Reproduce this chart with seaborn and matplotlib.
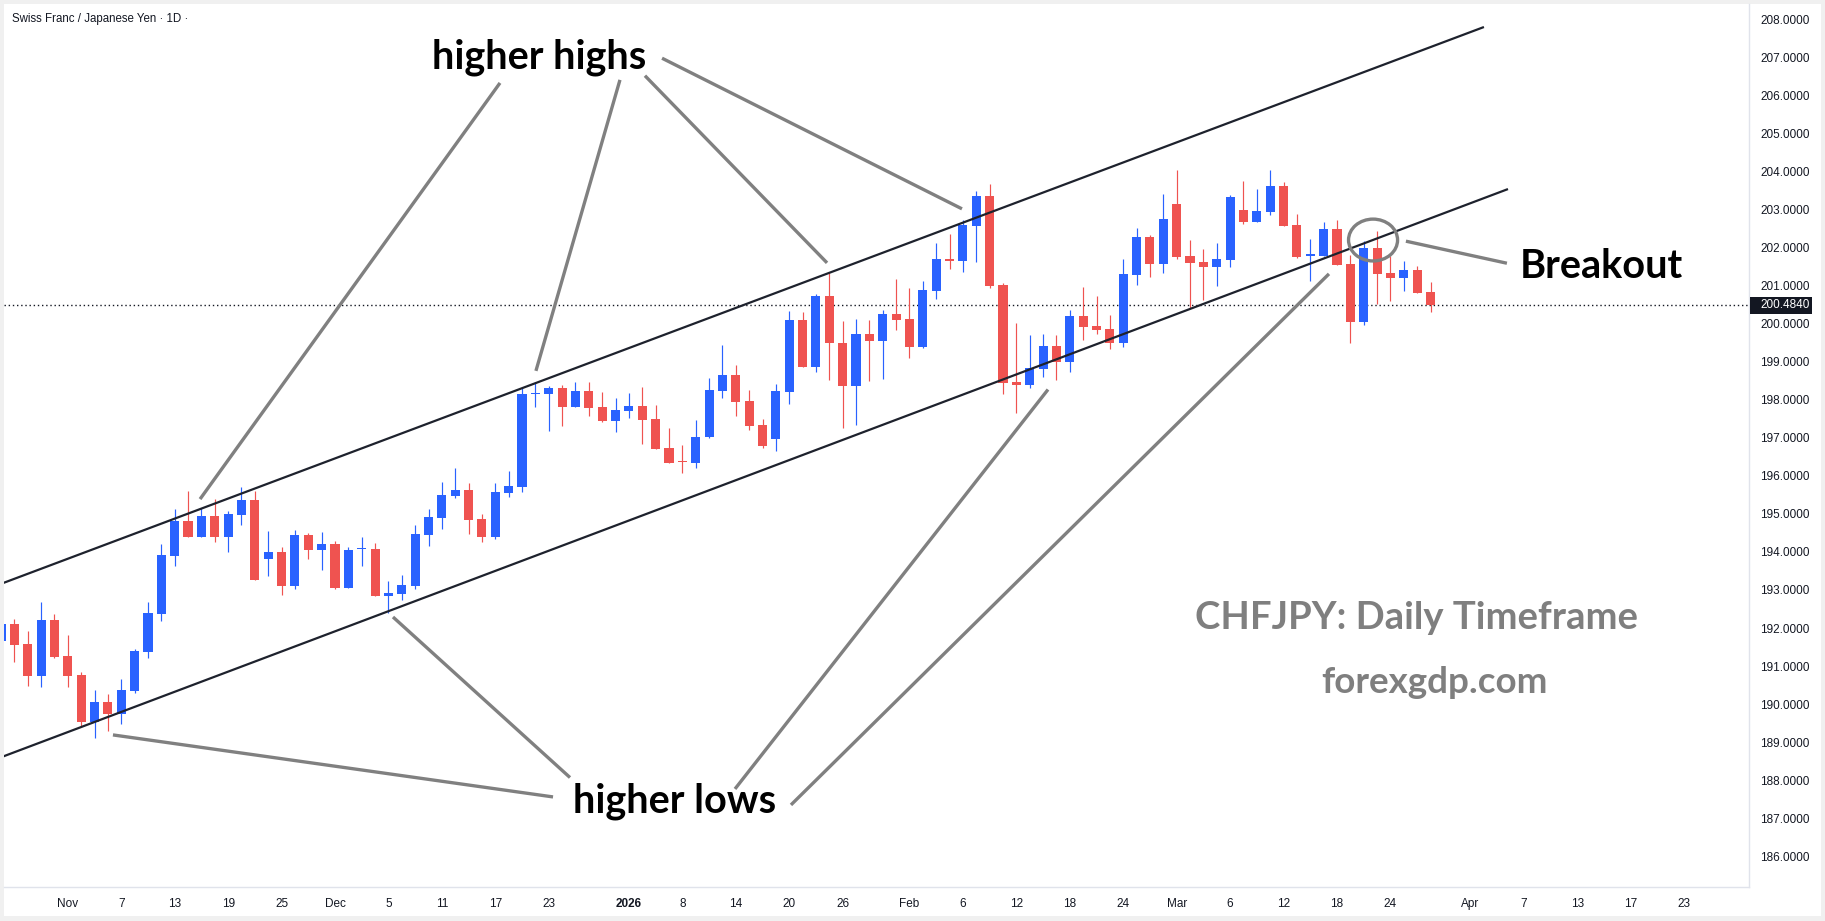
import numpy as np
import pandas as pd
import seaborn as sns
import matplotlib.pyplot as plt
from matplotlib.patches import Rectangle, Ellipse
import matplotlib.transforms as mtransforms

# CHF/JPY daily candles, 27 Oct 2025 -> 27 Mar 2026
opens = [191.65, 192.11, 191.58, 190.74, 192.21, 191.27, 190.77, 189.54, 190.06, 189.74,
         190.35, 191.38, 192.38, 193.90, 194.81, 194.40, 194.95, 194.38, 194.97, 195.37,
         193.82, 194.00, 193.11, 194.45, 194.05, 194.21, 193.05, 194.07, 194.08, 192.84,
         192.90, 193.11, 194.45, 194.89, 195.47, 195.63, 194.87, 194.39, 195.55, 195.71,
         198.16, 198.15, 198.31, 197.81, 198.23, 197.81, 197.45, 197.71, 197.84, 197.50,
         196.73, 196.37, 196.35, 197.01, 198.23, 198.65, 197.97, 197.34, 196.97, 198.21,
         200.10, 198.86, 200.73, 199.49, 198.36, 199.73, 199.55, 200.26, 200.12, 199.39,
         200.86, 201.70, 201.65, 202.57, 203.36, 201.02, 198.47, 198.39, 198.81, 199.41,
         198.99, 200.20, 199.94, 199.86, 199.49, 201.28, 202.28, 201.57, 203.15, 201.78,
         201.62, 201.49, 201.68, 202.99, 202.67, 202.94, 203.62, 202.60, 201.79, 201.78,
         202.49, 201.57, 200.05, 201.99, 201.33, 201.20, 201.41, 200.83]
highs = [192.25, 192.24, 191.92, 192.69, 192.37, 191.82, 190.85, 190.37, 190.27, 190.66,
         191.45, 192.69, 194.21, 195.13, 195.60, 195.15, 195.39, 195.08, 195.71, 195.60,
         194.55, 194.13, 194.58, 194.50, 194.52, 194.29, 194.13, 194.39, 194.24, 193.24,
         193.39, 194.71, 195.13, 195.84, 196.21, 195.80, 195.00, 195.80, 196.13, 198.30,
         198.46, 198.36, 198.39, 198.47, 198.47, 198.21, 198.05, 198.18, 198.34, 197.86,
         197.26, 196.81, 197.47, 198.57, 199.44, 198.92, 198.26, 197.50, 198.42, 200.33,
         200.31, 200.78, 201.33, 200.07, 200.12, 200.10, 200.36, 201.18, 200.94, 201.12,
         202.12, 202.36, 202.73, 203.49, 203.67, 201.07, 200.02, 199.70, 199.73, 199.70,
         200.36, 200.97, 200.73, 200.23, 201.70, 202.52, 202.33, 203.41, 204.04, 202.20,
         201.96, 202.12, 203.38, 203.75, 203.54, 204.04, 203.73, 202.89, 202.23, 202.67,
         202.73, 201.81, 202.18, 202.44, 201.78, 201.65, 201.52, 201.10]
lows = [191.50, 191.12, 190.48, 190.46, 191.20, 190.46, 189.39, 189.10, 189.30, 189.48,
        190.30, 191.20, 192.19, 193.64, 194.39, 194.40, 194.27, 194.01, 194.71, 193.26,
        193.37, 192.87, 193.03, 193.82, 193.53, 193.03, 193.05, 193.63, 192.84, 192.39,
        192.74, 193.03, 194.16, 194.60, 195.42, 194.47, 194.26, 194.34, 195.45, 195.58,
        197.82, 197.18, 197.31, 197.81, 197.58, 197.42, 197.15, 197.53, 196.84, 196.70,
        196.34, 196.08, 196.21, 197.00, 198.05, 197.58, 197.21, 196.73, 196.65, 197.89,
        198.86, 198.73, 198.52, 197.26, 197.34, 198.49, 198.55, 199.84, 199.10, 199.36,
        200.65, 201.44, 201.36, 201.62, 200.94, 198.15, 197.65, 198.31, 198.60, 198.52,
        198.73, 199.57, 199.73, 199.34, 199.39, 201.02, 201.23, 201.33, 201.70, 200.41,
        200.62, 200.99, 201.49, 202.62, 202.67, 202.86, 202.57, 201.73, 201.12, 201.78,
        201.54, 199.49, 199.97, 200.52, 200.60, 200.87, 200.80, 200.31]
closes = [192.11, 191.55, 190.74, 192.21, 191.25, 190.74, 189.54, 190.06, 189.74, 190.37,
          191.40, 192.40, 193.92, 194.81, 194.40, 194.95, 194.38, 194.99, 195.37, 193.26,
          194.00, 193.11, 194.45, 194.05, 194.21, 193.05, 194.05, 194.09, 192.84, 192.92,
          193.13, 194.47, 194.92, 195.50, 195.63, 194.84, 194.39, 195.58, 195.73, 198.15,
          198.18, 198.31, 197.81, 198.23, 197.79, 197.44, 197.73, 197.84, 197.48, 196.71,
          196.35, 196.36, 197.02, 198.26, 198.65, 197.94, 197.31, 196.79, 198.23, 200.10,
          198.86, 200.73, 199.49, 198.36, 199.73, 199.55, 200.26, 200.10, 199.39, 200.89,
          201.70, 201.66, 202.60, 203.36, 200.99, 198.44, 198.39, 198.84, 199.41, 198.99,
          200.20, 199.91, 199.84, 199.49, 201.31, 202.28, 201.57, 202.75, 201.75, 201.60,
          201.49, 201.70, 203.33, 202.67, 202.96, 203.62, 202.57, 201.75, 201.80, 202.49,
          201.54, 200.05, 201.99, 201.31, 201.20, 201.41, 200.81, 200.48]
last_price = 200.484

holidays = ["2025-12-25", "2026-01-01"]
tick_dates = ["2025-11-03", "2025-11-07", "2025-11-13", "2025-11-19", "2025-11-25",
              "2025-12-01", "2025-12-05", "2025-12-11", "2025-12-17", "2025-12-23",
              "2026-01-02", "2026-01-08", "2026-01-14", "2026-01-20", "2026-01-26",
              "2026-02-02", "2026-02-06", "2026-02-12", "2026-02-18", "2026-02-24",
              "2026-03-02", "2026-03-06", "2026-03-12", "2026-03-18", "2026-03-24",
              "2026-04-01", "2026-04-07", "2026-04-13", "2026-04-17", "2026-04-23"]
tick_labels = ["Nov", "7", "13", "19", "25", "Dec", "5", "11", "17", "23",
               "2026", "8", "14", "20", "26", "Feb", "6", "12", "18", "24",
               "Mar", "6", "12", "18", "24", "Apr", "7", "13", "17", "23"]
price_ticks = list(range(186, 209))

# drawings: (bar index, price)
channel_upper = [(-1, 193.03), (111.0, 207.80)]
channel_lower = [(-1, 188.47), (112.8, 203.54)]
hh_lines = [[(37.35, 206.33), (14.9, 195.39)],
            [(46.33, 206.41), (40.04, 198.76)],
            [(48.2, 206.52), (61.83, 201.60)],
            [(49.48, 206.98), (71.93, 203.02)]]
hl_lines = [[(41.32, 187.56), (8.38, 189.19)],
            [(42.59, 188.07), (29.34, 192.29)],
            [(54.94, 187.77), (78.37, 198.27)],
            [(59.13, 187.35), (99.4, 201.31)]]
breakout_line = [(105.16, 202.17), (112.72, 201.59)]
breakout_circle = (102.7, 202.20)

# business-day axis (no weekends, no Xmas / New Year bars)
days = pd.bdate_range("2025-10-27", "2026-04-30")
days = days[~days.isin(pd.to_datetime(holidays))]
pos = pd.Series(np.arange(len(days)), index=days)
tick_pos = pos[pd.to_datetime(tick_dates)].values

sns.set_theme(style="white")
plt.rcParams['font.family'] = ['Liberation Sans', 'DejaVu Sans']

W, H = 1825, 921
fig = plt.figure(figsize=(W / 100, H / 100), dpi=100, facecolor="#f0f0f0")
fig.patches.append(Rectangle((4 / W, 5 / H), 1817 / W, 912 / H, transform=fig.transFigure,
                             facecolor="white", edgecolor="none", zorder=-10))
ax = fig.add_axes([4 / W, 1 - 887 / H, 1745 / W, 883 / H])
ax.set_facecolor("white")

o, h, l, c = map(np.array, (opens, highs, lows, closes))
x = np.arange(len(o))
cols = np.where(c >= o, "#2962ff", "#ef5350")
ax.vlines(x, l, h, colors=cols, linewidth=0.85, zorder=2)
ax.bar(x, np.maximum(np.abs(c - o), 0.03), bottom=np.minimum(o, c), width=0.68,
       color=cols, linewidth=0, zorder=3)

ax.axhline(last_price, color="#131722", linestyle=(0, (1, 2)), linewidth=1.0, zorder=1)

for (a, b) in (channel_upper, channel_lower):
    ax.plot([a[0], b[0]], [a[1], b[1]], color="#1e222d", linewidth=1.6, zorder=4,
            solid_capstyle="butt")
for seg in hh_lines + hl_lines + [breakout_line]:
    ax.plot([seg[0][0], seg[1][0]], [seg[0][1], seg[1][1]], color="#808080",
            linewidth=2.4, zorder=4, solid_capstyle="butt")
ax.add_patch(Ellipse(breakout_circle, 3.67, 1.10, facecolor="none", edgecolor="#808080",
                     linewidth=2.4, zorder=5))

big = dict(family=["Lato", "DejaVu Sans"], fontweight="bold", ha="center", va="baseline")
ax.text(40.27, 206.71, "higher highs", fontsize=28.5, color="black", **big)
ax.text(50.45, 187.14, "higher lows", fontsize=28.5, color="black", **big)
ax.text(119.76, 201.19, "Breakout", fontsize=28.5, color="black", **big)
ax.text(105.95, 191.97, "CHFJPY: Daily Timeframe", fontsize=27.5, color="#7f7f7f", **big)
ax.text(107.26, 190.28, "forexgdp.com", fontsize=26.5, color="#7f7f7f", **big)

ax.set_xlim(0.2245, 130.84)
ax.set_ylim(185.192, 208.405)
ax.set_xticks(tick_pos)
ax.set_xticklabels(tick_labels)
for t, lab in zip(ax.get_xticklabels(), tick_labels):
    if lab == "2026":
        t.set_fontweight("bold")
ax.yaxis.tick_right()
ax.set_yticks(price_ticks)
ax.set_yticklabels([f"{v:.4f}" for v in price_ticks])
ax.tick_params(axis="both", length=0, labelsize=8.5, labelcolor="#131722")
ax.tick_params(axis="x", pad=8)
ax.tick_params(axis="y", pad=8)
for s in ("top", "left"):
    ax.spines[s].set_visible(False)
for s in ("right", "bottom"):
    ax.spines[s].set_color("#e0e3eb")
    ax.spines[s].set_linewidth(1.0)

# last-price marker on the price scale
tr = mtransforms.blended_transform_factory(ax.transAxes, ax.transData)
ax.add_patch(Rectangle((1.0006, last_price - 0.225), 0.0355, 0.45, transform=tr,
                       facecolor="#131722", edgecolor="none", clip_on=False, zorder=9))
ax.text(1.0063, last_price, "200.4840", transform=tr, ha="left", va="center",
        fontsize=8.5, color="white", zorder=10)

fig.text(12 / W, 1 - 19 / H, "Swiss Franc / Japanese Yen · 1D ·", va="center",
         fontsize=8.3, color="#131722")

fig.savefig("out.png", dpi=100, facecolor=fig.get_facecolor())
